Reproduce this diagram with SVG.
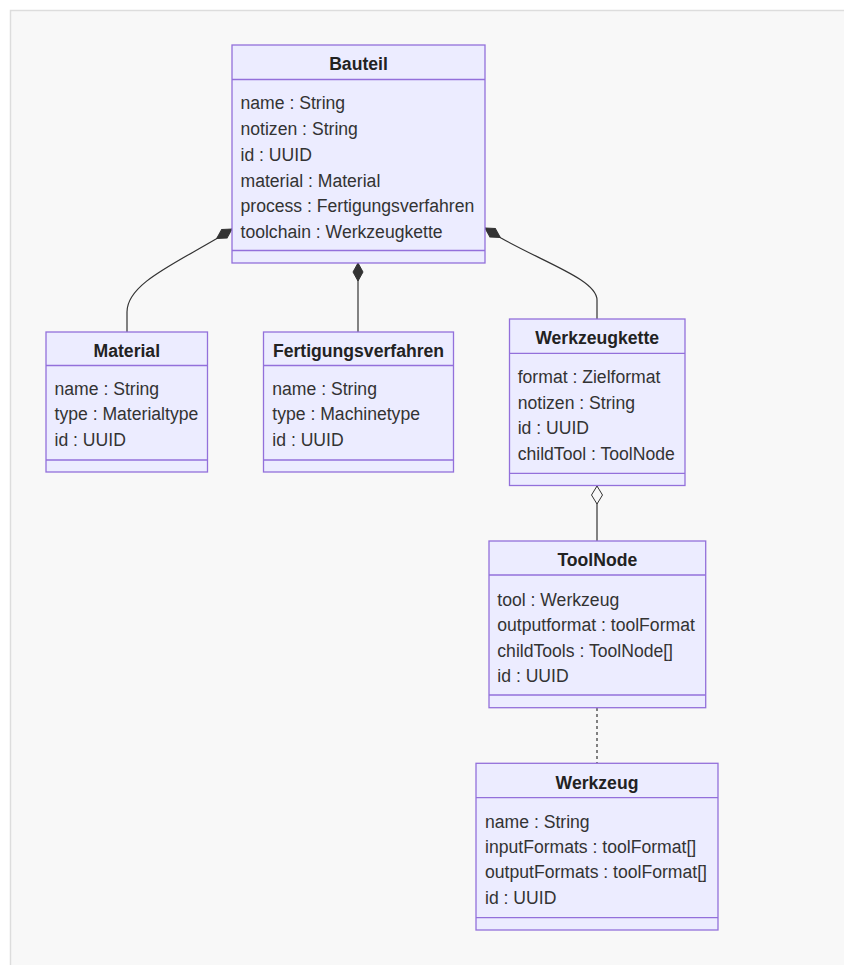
<svg xmlns="http://www.w3.org/2000/svg" width="844" height="965" viewBox="0 0 844 965">
<style>
.box{fill:#ECECFF;stroke:#9370DB;stroke-width:1.3}
.div{stroke:#9370DB;stroke-width:1.3}
.t{font-family:"Liberation Sans",Arial,sans-serif;font-size:17.6px;fill:#333}
.h{font-family:"Liberation Sans",Arial,sans-serif;font-size:17.6px;font-weight:bold;fill:#222;text-anchor:middle}
.rel{fill:none;stroke:#333;stroke-width:1.2}
.dash{stroke-dasharray:3,3}
</style>
<defs>
<marker id="comp" markerUnits="userSpaceOnUse" markerWidth="20" markerHeight="14" refX="0" refY="7" orient="auto" viewBox="0 0 20 14">
<path d="M0,7 L9,2 L18,7 L9,12 Z" fill="#333" stroke="#333" stroke-width="1"/>
</marker>
<marker id="aggr" markerUnits="userSpaceOnUse" markerWidth="22" markerHeight="16" refX="1" refY="8" orient="auto" viewBox="0 0 22 16">
<path d="M1,8 L10,2.5 L19,8 L10,13.5 Z" fill="#f8f8f8" stroke="#333" stroke-width="1"/>
</marker>
</defs>
<rect x="0" y="0" width="844" height="965" fill="#ffffff"/>
<rect x="10.5" y="10.5" width="845" height="970" fill="#f8f8f8" stroke="#dddddd" stroke-width="1.5"/>

<g id="connectors">
<path class="rel" d="M232,229 L216,239 C170,266 127,285 127,312 L127,332" marker-start="url(#comp)"/>
<path class="rel" d="M358,263 L358,332" marker-start="url(#comp)"/>
<path class="rel" d="M485,228 L501,238 C545,263 597,280 597,300 L597,319" marker-start="url(#comp)"/>
<path class="rel" d="M597,486 L597,541" marker-start="url(#aggr)"/>
<path class="rel dash" d="M597,708 L597,763"/>
</g>

<g id="Bauteil">
<rect class="box" x="232" y="45" width="253" height="218"/>
<line class="div" x1="232" y1="79.5" x2="485" y2="79.5"/>
<line class="div" x1="232" y1="250.5" x2="485" y2="250.5"/>
<text class="h" x="358.5" y="70">Bauteil</text>
<text class="t" x="240.5" y="109">name : String</text>
<text class="t" x="240.5" y="135">notizen : String</text>
<text class="t" x="240.5" y="160.5">id : UUID</text>
<text class="t" x="240.5" y="186.5">material : Material</text>
<text class="t" x="240.5" y="212">process : Fertigungsverfahren</text>
<text class="t" x="240.5" y="237.5">toolchain : Werkzeugkette</text>
</g>

<g id="Material">
<rect class="box" x="46" y="332" width="161.5" height="140"/>
<line class="div" x1="46" y1="365.5" x2="207.5" y2="365.5"/>
<line class="div" x1="46" y1="460" x2="207.5" y2="460"/>
<text class="h" x="126.8" y="356.5">Material</text>
<text class="t" x="54.5" y="395">name : String</text>
<text class="t" x="54.5" y="420">type : Materialtype</text>
<text class="t" x="54.5" y="445.5">id : UUID</text>
</g>

<g id="Fertigungsverfahren">
<rect class="box" x="263.5" y="332" width="190" height="140"/>
<line class="div" x1="263.5" y1="365.5" x2="453.5" y2="365.5"/>
<line class="div" x1="263.5" y1="460" x2="453.5" y2="460"/>
<text class="h" x="358.5" y="356.5">Fertigungsverfahren</text>
<text class="t" x="272.3" y="395">name : String</text>
<text class="t" x="272.3" y="420">type : Machinetype</text>
<text class="t" x="272.3" y="445.5">id : UUID</text>
</g>

<g id="Werkzeugkette">
<rect class="box" x="509.5" y="319" width="175.5" height="166.5"/>
<line class="div" x1="509.5" y1="353.3" x2="685" y2="353.3"/>
<line class="div" x1="509.5" y1="473.3" x2="685" y2="473.3"/>
<text class="h" x="597.2" y="344">Werkzeugkette</text>
<text class="t" x="517.7" y="382.7">format : Zielformat</text>
<text class="t" x="517.7" y="409">notizen : String</text>
<text class="t" x="517.7" y="434.3">id : UUID</text>
<text class="t" x="517.7" y="460">childTool : ToolNode</text>
</g>

<g id="ToolNode">
<rect class="box" x="489" y="541" width="216.7" height="166.7"/>
<line class="div" x1="489" y1="575" x2="705.7" y2="575"/>
<line class="div" x1="489" y1="695" x2="705.7" y2="695"/>
<text class="h" x="597.3" y="566">ToolNode</text>
<text class="t" x="497.3" y="606">tool : Werkzeug</text>
<text class="t" x="497.3" y="631">outputformat : toolFormat</text>
<text class="t" x="497.3" y="656.7">childTools : ToolNode[]</text>
<text class="t" x="497.3" y="682">id : UUID</text>
</g>

<g id="Werkzeug">
<rect class="box" x="476" y="763.3" width="242" height="166.7"/>
<line class="div" x1="476" y1="797.7" x2="718" y2="797.7"/>
<line class="div" x1="476" y1="917.7" x2="718" y2="917.7"/>
<text class="h" x="597" y="789.3">Werkzeug</text>
<text class="t" x="485" y="828.3">name : String</text>
<text class="t" x="485" y="853.3">inputFormats : toolFormat[]</text>
<text class="t" x="485" y="878.3">outputFormats : toolFormat[]</text>
<text class="t" x="485" y="904">id : UUID</text>
</g>
</svg>
